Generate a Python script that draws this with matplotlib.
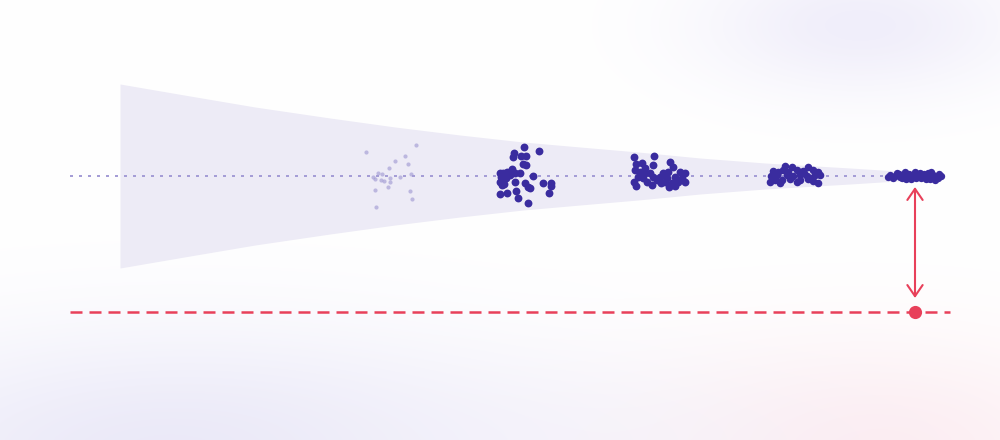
import numpy as np
import matplotlib
matplotlib.use("Agg")
import matplotlib.pyplot as plt

# funnel (cone) outline: x position and half width around the centre line
cone_x = [120, 190, 255, 330, 395, 460, 523, 580, 638, 700, 765, 850, 944]
cone_half = [92, 80, 69, 58, 49, 41, 34, 29, 24, 18, 13, 8, 2]
centre_y = 176

# sample clusters (x, y)
faint_x = [366, 416, 395, 405, 408, 389, 411, 378, 382, 375, 381, 390, 390, 384, 400, 388, 375, 410, 412, 376, 373]
faint_y = [152, 145, 161, 156, 164, 168, 174, 173, 174, 179, 180, 178, 182, 181, 177, 187, 190, 191, 199, 207, 177]

c2_x = [524, 539, 514, 513, 521, 526, 523, 526, 500, 503, 507, 512, 515, 520, 533, 500, 503, 504, 515, 525,
        528, 530, 543, 551, 551, 500, 507, 516, 518, 528, 549, 502, 501, 510, 506]
c2_y = [147, 151, 153, 157, 156, 156, 164, 165, 173, 173, 172, 169, 173, 173, 176, 182, 180, 184, 182, 183,
        187, 188, 183, 183, 186, 194, 193, 191, 198, 203, 193, 185, 177, 175, 178]

c3_x = [634, 654, 636, 642, 653, 670, 673, 635, 640, 645, 650, 663, 668, 680, 685, 638, 643, 653, 660, 667,
        675, 682, 634, 647, 665, 672, 678, 685, 636, 652, 669, 675, 657, 661, 645]
c3_y = [157, 156, 164, 163, 165, 162, 167, 170, 172, 173, 173, 173, 172, 172, 173, 177, 178, 177, 177, 178,
        177, 178, 182, 182, 182, 183, 182, 182, 186, 185, 187, 186, 180, 183, 168]

c4_x = [785, 792, 808, 773, 778, 783, 797, 803, 813, 818, 771, 777, 787, 793, 800, 807, 815, 820, 775, 782,
        790, 800, 808, 813, 770, 780, 818, 797, 788, 804, 811]
c4_y = [166, 167, 167, 171, 172, 170, 170, 171, 170, 172, 176, 175, 175, 176, 175, 176, 175, 175, 180, 180,
        179, 180, 179, 181, 182, 183, 183, 182, 172, 173, 178]

c5_x = [890, 893, 897, 900, 903, 906, 909, 912, 915, 918, 921, 924, 927, 930, 933, 936, 939, 941, 895, 911,
        920, 928, 905, 935, 888, 899, 908, 916, 923, 931, 938, 902, 926]
c5_y = [175, 178, 173, 177, 175, 179, 174, 176, 172, 175, 178, 174, 176, 179, 175, 177, 174, 176, 176, 179,
        173, 173, 172, 180, 177, 174, 177, 178, 176, 172, 178, 178, 179]

target_y = 312
target_x = 915
arrow_top = 187
arrow_bottom = 298

W, H = 1000, 440
fig = plt.figure(figsize=(10, 4.4), dpi=100)
ax = fig.add_axes([0, 0, 1, 1])
ax.set_xlim(0, W)
ax.set_ylim(H, 0)
ax.axis("off")

# soft background tint
gx, gy = np.meshgrid(np.arange(W), np.arange(H))
img = np.ones((H, W, 3))
def blob(cx, cy, rx, ry, col, strength):
    global img
    w = strength * np.exp(-(((gx - cx) / rx) ** 2 + ((gy - cy) / ry) ** 2))
    col = np.array(col) / 255.0
    img = img * (1 - w[..., None]) + col * w[..., None]
blob(860, 25, 160, 70, (234, 231, 248), 0.7)
blob(180, 450, 360, 120, (228, 226, 246), 0.75)
blob(880, 450, 240, 110, (252, 230, 236), 0.7)
blob(550, 440, 300, 80, (240, 238, 249), 0.4)
ax.imshow(img, extent=(0, W, H, 0), zorder=0, aspect="auto")

cx = np.array(cone_x)
ch = np.array(cone_half)
ax.fill_between(cx, centre_y - ch, centre_y + ch, color="#edebf6", lw=0, zorder=1)

ax.plot([70, 945], [centre_y, centre_y], color="#a59dd6", lw=1.44,
        dashes=(1.5, 3), zorder=2)

ax.scatter(faint_x, faint_y, s=9, color="#a29bd4", alpha=0.65, lw=0, zorder=3)
for xs, ys, s in [(c2_x, c2_y, 32), (c3_x, c3_y, 32), (c4_x, c4_y, 30), (c5_x, c5_y, 28)]:
    ax.scatter(xs, ys, s=s, color="#3a2c9f", lw=0, zorder=4)

red = "#e8405a"
ax.plot([70, 950], [target_y, target_y], color=red, lw=1.8, dashes=(4.8, 2.8), zorder=3)
ax.annotate("", xy=(target_x, arrow_top), xytext=(target_x, arrow_bottom),
            arrowprops=dict(arrowstyle="<->,head_length=0.8,head_width=0.55",
                            color=red, lw=1.5, shrinkA=0, shrinkB=0), zorder=4)
ax.scatter([target_x], [target_y], s=90, color=red, lw=0, zorder=5)

fig.savefig("out.png", dpi=100)
